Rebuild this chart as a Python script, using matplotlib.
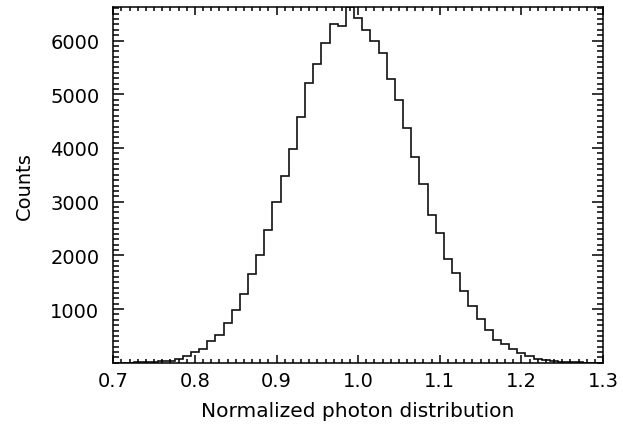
import numpy as np
import matplotlib
matplotlib.use('Agg')
import matplotlib.pyplot as plt
from matplotlib.ticker import MultipleLocator, FormatStrFormatter

# bin centres (width 0.01) and counts
centers = [0.71, 0.72, 0.73, 0.74, 0.75, 0.76, 0.77, 0.78, 0.79, 0.80,
           0.81, 0.82, 0.83, 0.84, 0.85, 0.86, 0.87, 0.88, 0.89, 0.90,
           0.91, 0.92, 0.93, 0.94, 0.95, 0.96, 0.97, 0.98, 0.99, 1.00,
           1.01, 1.02, 1.03, 1.04, 1.05, 1.06, 1.07, 1.08, 1.09, 1.10,
           1.11, 1.12, 1.13, 1.14, 1.15, 1.16, 1.17, 1.18, 1.19, 1.20,
           1.21, 1.22, 1.23, 1.24, 1.25, 1.26, 1.27, 1.28, 1.29]
counts = [1, 3, 5, 8, 15, 26, 37, 63, 130, 194,
          261, 404, 521, 745, 987, 1273, 1652, 2005, 2471, 2987,
          3471, 3985, 4581, 5208, 5556, 5947, 6301, 6264, 6620, 6420,
          6195, 5985, 5761, 5277, 4886, 4364, 3836, 3335, 2750, 2409,
          1937, 1676, 1335, 1050, 808, 615, 423, 343, 255, 175,
          130, 75, 50, 32, 18, 10, 5, 3, 1]

c = np.array(centers)
edges = np.append(c - 0.005, c[-1] + 0.005)

plt.rcParams['font.family'] = ['DejaVu Sans']
fig = plt.figure(figsize=(6.23, 4.31), dpi=100)
ax = fig.add_axes([0.1819, 0.1561, 0.786, 0.8246])

ax.stairs(counts, edges, color='#111111', linewidth=1.2, baseline=None)

ax.set_xlim(0.7, 1.3)
ax.set_ylim(0, 6620)
ax.xaxis.set_major_locator(MultipleLocator(0.1))
ax.xaxis.set_minor_locator(MultipleLocator(0.01))
ax.xaxis.set_major_formatter(FormatStrFormatter('%.1f'))
ax.set_yticks([1000, 2000, 3000, 4000, 5000, 6000])
ax.yaxis.set_minor_locator(MultipleLocator(100))

ax.tick_params(axis='both', which='both', direction='in', top=True, right=True,
               labelsize=14, width=1.1)
ax.tick_params(axis='x', which='major', length=5.5, pad=6)
ax.tick_params(axis='x', which='minor', length=2.8)
ax.tick_params(axis='y', which='major', length=7.6, pad=10)
ax.tick_params(axis='y', which='minor', length=4)
for s in ax.spines.values():
    s.set_linewidth(1.1)

ax.set_xlabel('Normalized photon distribution', fontsize=14.5, labelpad=8)
ax.set_ylabel('Counts', fontsize=14, labelpad=12)

plt.savefig('out.png', dpi=100)
